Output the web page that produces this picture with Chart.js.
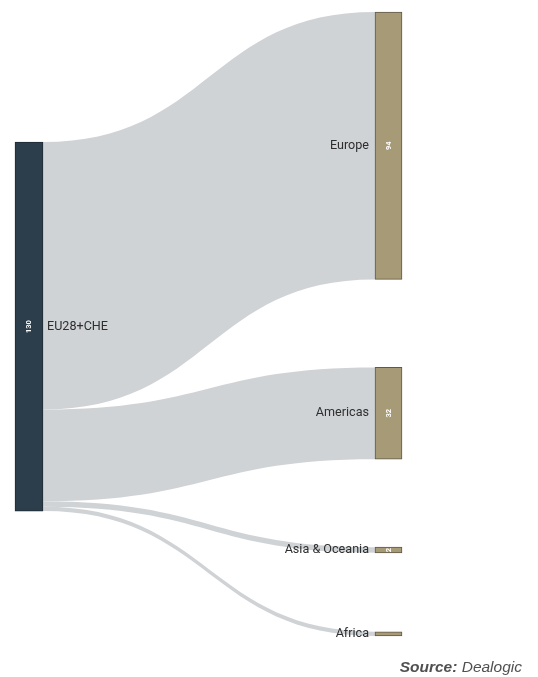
<!DOCTYPE html>
<html>
<head>
<meta charset="utf-8">
<script src="https://cdn.jsdelivr.net/npm/chart.js@4/dist/chart.umd.min.js"></script>
<style>
  html, body { margin: 0; padding: 0; background: #fff; }
  #wrap { position: relative; width: 538px; height: 677px; }
  #credit {
    position: absolute; right: 16px; top: 658px;
    font: italic 15.5px "Liberation Sans", Arial, sans-serif; color: #505050;
    white-space: nowrap;
  }
  #credit b { font-weight: bold; }
</style>
</head>
<body>
<div id="wrap">
  <canvas id="c"></canvas>
  <div id="credit"><b>Source:</b> Dealogic</div>
</div>
<script>
// Origin region and where its flows go
const sourceName = 'EU28+CHE';
const destinations = ['Europe', 'Americas', 'Asia & Oceania', 'Africa'];
const flows = [94.2, 32.3, 2.0, 1.5];

// Layout in value units (vertical spacing between destination nodes, source offset)
const NODE_GAP = [31, 31, 27.8];
const SOURCE_TOP = 45.8;

const sourceTotal = flows.reduce((a, b) => a + b, 0);

// Stack destination nodes top to bottom
const targetSpans = [];
let cursor = 0;
flows.forEach((v, i) => {
  targetSpans.push([cursor, cursor + v]);
  cursor += v + (i < NODE_GAP.length ? NODE_GAP[i] : 0);
});
const extent = cursor;
const sourceSpan = [SOURCE_TOP, SOURCE_TOP + sourceTotal];

// Link bands drawn behind the nodes
const linkPlugin = {
  id: 'sankeyLinks',
  beforeDatasetsDraw(chart) {
    const { ctx } = chart;
    const y = chart.scales.y;
    const src = chart.getDatasetMeta(0).data[0];
    const tgts = chart.getDatasetMeta(1).data;
    const x0 = src.x + src.width / 2;
    let s = sourceSpan[0];
    ctx.save();
    ctx.fillStyle = '#d0d3d6';
    flows.forEach((v, i) => {
      const t = tgts[i];
      const x1 = t.x - t.width / 2;
      const xm = (x0 + x1) / 2;
      const sy0 = y.getPixelForValue(s);
      const sy1 = y.getPixelForValue(s + v);
      const ty0 = y.getPixelForValue(targetSpans[i][0]);
      const ty1 = y.getPixelForValue(targetSpans[i][1]);
      ctx.beginPath();
      ctx.moveTo(x0, sy0);
      ctx.bezierCurveTo(xm, sy0, xm, ty0, x1, ty0);
      ctx.lineTo(x1, ty1);
      ctx.bezierCurveTo(xm, ty1, xm, sy1, x0, sy1);
      ctx.closePath();
      ctx.fill();
      s += v;
    });
    ctx.restore();
  }
};

// Node names beside the bars and values inside them
const labelPlugin = {
  id: 'sankeyLabels',
  afterDatasetsDraw(chart) {
    const { ctx } = chart;
    const src = chart.getDatasetMeta(0).data[0];
    const tgts = chart.getDatasetMeta(1).data;
    ctx.save();
    ctx.font = '12.6px Roboto, "Liberation Sans", sans-serif';
    ctx.fillStyle = '#2e2e2e';
    ctx.textBaseline = 'middle';
    const srcMid = (src.y + src.base) / 2;
    ctx.textAlign = 'left';
    ctx.fillText(sourceName, src.x + src.width / 2 + 4, srcMid);
    ctx.textAlign = 'right';
    tgts.forEach((t, i) => {
      ctx.fillText(destinations[i], t.x - t.width / 2 - 6, (t.y + t.base) / 2);
    });

    const valueLabel = (el, val) => {
      const h = Math.abs(el.base - el.y);
      if (h < 5) return;
      ctx.save();
      ctx.translate(el.x, (el.y + el.base) / 2);
      ctx.rotate(-Math.PI / 2);
      ctx.font = 'bold 7.5px Roboto, "Liberation Sans", sans-serif';
      ctx.fillStyle = '#fff';
      ctx.textAlign = 'center';
      ctx.textBaseline = 'middle';
      ctx.fillText(String(Math.round(val)), 0, 0.5);
      ctx.restore();
    };
    valueLabel(src, sourceTotal);
    tgts.forEach((t, i) => valueLabel(t, flows[i]));
    ctx.restore();
  }
};

new Chart(document.getElementById('c'), {
  type: 'bar',
  data: {
    datasets: [
      {
        label: sourceName,
        data: [{ x: 0, y: sourceSpan }],
        backgroundColor: '#2c3e4b',
        borderColor: '#1e2a33',
        borderWidth: 1,
        borderSkipped: false,
        barThickness: 28,
        grouped: false,
        clip: false
      },
      {
        label: 'Destinations',
        data: targetSpans.map(span => ({ x: 1, y: span })),
        backgroundColor: '#a79a76',
        borderColor: '#5f5948',
        borderWidth: 1,
        borderSkipped: false,
        barThickness: 27,
        grouped: false,
        clip: false
      }
    ]
  },
  options: {
    responsive: true,
    maintainAspectRatio: false,
    animation: false,
    events: [],
    layout: { padding: { left: 29, right: 149.5, top: 12, bottom: 41 } },
    scales: {
      x: { type: 'linear', min: 0, max: 1, display: false, offset: false },
      y: { type: 'linear', min: 0, max: extent, reverse: true, display: false }
    },
    plugins: {
      legend: { display: false },
      tooltip: { enabled: false }
    }
  },
  plugins: [linkPlugin, labelPlugin]
});
</script>
</body>
</html>
